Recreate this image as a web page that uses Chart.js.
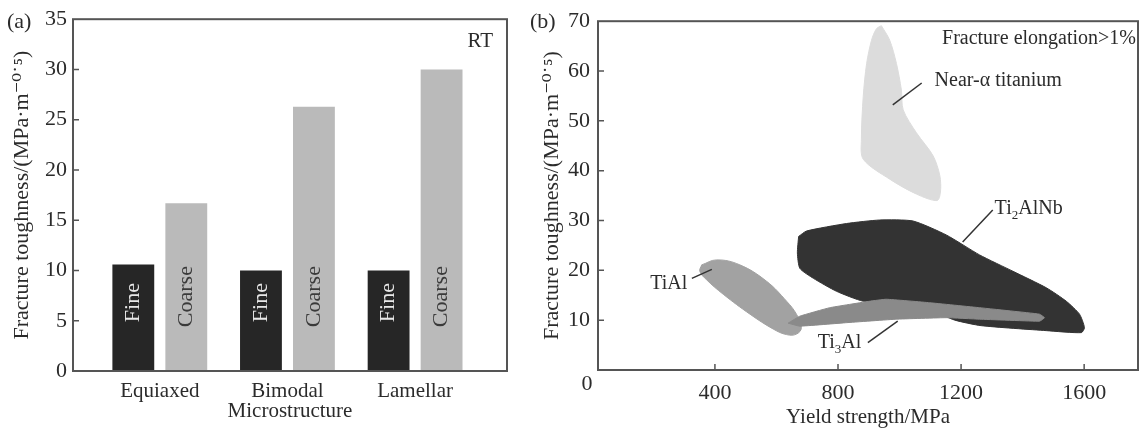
<!DOCTYPE html>
<html>
<head>
<meta charset="utf-8">
<script src="https://cdn.jsdelivr.net/npm/chart.js@4.4.1/dist/chart.umd.min.js"></script>
<style>
    body { margin: 0; background: #fff; }
    #wrap { position: relative; width: 1141px; height: 432px; }
    #left { position: absolute; left: 0; top: 0; }
    #right { position: absolute; left: 530px; top: 0; }
</style>
</head>
<body>
<div id="wrap">
    <canvas id="left" width="530" height="432"></canvas>
    <canvas id="right" width="611" height="432"></canvas>
</div>
<script>
// (a) bars
var categories = ['Equiaxed', 'Bimodal', 'Lamellar'];
var fineValues = [10.6, 10.0, 10.0];
var coarseValues = [16.7, 26.3, 30.0];

// (b) regions, [yield strength MPa, fracture toughness]
var strengthTicks = [400, 800, 1200, 1600];
var nearAlpha = [[941, 69.1], [968, 66.2], [990, 61.5], [1006, 56.2], [1012, 52.2], [1055, 47.6], [1109, 43.0], [1131, 39.0],
    [1133, 35.7], [1122, 34.0], [1055, 35.3], [968, 38.3], [882, 42.3], [876, 46.3], [882, 54.9], [893, 61.5], [909, 66.2], [925, 68.5]];
var ti2alnb = [[672, 26.8], [698, 27.9], [828, 29.4], [936, 30.1], [1044, 29.9], [1152, 27.1], [1260, 23.1], [1369, 19.8],
    [1477, 16.5], [1542, 13.8], [1585, 11.2], [1601, 8.5], [1591, 7.5], [1477, 7.9], [1265, 8.9], [1180, 10.0], [1100, 12.0],
    [1000, 13.5], [936, 14.0], [882, 13.8], [795, 15.8], [720, 18.4], [676, 20.4], [668, 23.5]];
var ti3al = [[638, 9.4], [676, 10.8], [773, 12.5], [903, 13.8], [957, 14.2], [1098, 13.5], [1260, 12.5], [1369, 11.8],
    [1455, 11.2], [1471, 10.5], [1455, 9.8], [1260, 10.2], [1152, 10.5], [990, 10.2], [828, 9.5], [676, 8.8]];
var tial = [[357, 21.1], [406, 22.1], [481, 21.1], [568, 17.8], [633, 13.8], [665, 11.2], [681, 8.5], [665, 7.2],
    [633, 7.1], [590, 8.2], [514, 11.2], [427, 15.2], [373, 18.1], [351, 19.8]];

var serif = '"Liberation Serif", "DejaVu Serif", serif';
var ink = '#2b2b2b';
var yTitle = 'Fracture toughness/(MPa\u00b7m\u207b\u2070\u02d9\u2075)';

Chart.defaults.font.family = serif;
Chart.defaults.color = ink;

function toPoints(arr) {
    var pts = arr.map(function (p) { return {x: p[0], y: p[1]}; });
    pts.push({x: arr[0][0], y: arr[0][1]});
    return pts;
}

function frameAndTicks(xTicks) {
    return {
        id: 'frame',
        afterDraw: function (chart) {
            var ctx = chart.ctx;
            var a = chart.chartArea;
            ctx.save();
            ctx.strokeStyle = '#555';
            ctx.lineWidth = 2;
            ctx.strokeRect(a.left, a.top, a.right - a.left, a.bottom - a.top);
            ctx.lineWidth = 1.5;
            ctx.beginPath();
            chart.scales.y.ticks.forEach(function (t) {
                var py = chart.scales.y.getPixelForValue(t.value);
                if (py > a.top + 2 && py < a.bottom - 2) {
                    ctx.moveTo(a.left, py);
                    ctx.lineTo(a.left + 6, py);
                }
            });
            if (xTicks) {
                chart.scales.x.ticks.forEach(function (t) {
                    var px = chart.scales.x.getPixelForValue(t.value);
                    ctx.moveTo(px, a.bottom);
                    ctx.lineTo(px, a.bottom - 6);
                });
            }
            ctx.stroke();
            ctx.restore();
        }
    };
}

var barText = {
    id: 'barText',
    afterDatasetsDraw: function (chart) {
        var ctx = chart.ctx;
        var y = chart.scales.y;
        ctx.save();
        ctx.font = '22px ' + serif;
        ctx.textAlign = 'center';
        ctx.textBaseline = 'middle';
        [0, 1].forEach(function (d) {
            chart.getDatasetMeta(d).data.forEach(function (bar) {
                ctx.save();
                ctx.translate(bar.x, y.getPixelForValue(d === 0 ? 6.8 : 7.4));
                ctx.rotate(-Math.PI / 2);
                ctx.fillStyle = d === 0 ? '#e8e8e8' : '#3a3a3a';
                ctx.fillText(d === 0 ? 'Fine' : 'Coarse', 0, 0);
                ctx.restore();
            });
        });
        ctx.font = '22px ' + serif;
        ctx.fillStyle = ink;
        ctx.textAlign = 'left';
        ctx.fillText('(a)', 7, 22);
        ctx.font = '21px ' + serif;
        ctx.textAlign = 'right';
        ctx.fillText('RT', chart.chartArea.right - 14, chart.chartArea.top + 22);
        ctx.restore();
    }
};

new Chart(document.getElementById('left'), {
    type: 'bar',
    data: {
        datasets: [{
            label: 'Fine',
            data: fineValues.map(function (v, i) { return {x: i + 1, y: v}; }),
            backgroundColor: '#262626'
        }, {
            label: 'Coarse',
            data: coarseValues.map(function (v, i) { return {x: i + 1, y: v}; }),
            backgroundColor: '#bababa'
        }]
    },
    options: {
        responsive: false,
        animation: false,
        events: [],
        categoryPercentage: 0.83,
        barPercentage: 0.79,
        layout: {padding: {left: 0, top: 17, right: 23, bottom: 0}},
        plugins: {legend: {display: false}, tooltip: {enabled: false}},
        scales: {
            x: {
                type: 'linear',
                min: 0.32,
                max: 3.72,
                offset: false,
                grid: {display: false, drawTicks: false},
                border: {display: false},
                afterBuildTicks: function (scale) {
                    scale.ticks = categories.map(function (c, i) { return {value: i + 1}; });
                },
                afterFit: function (scale) { scale.height = 61; },
                ticks: {
                    autoSkip: false,
                    maxRotation: 0,
                    padding: 8,
                    font: {size: 21},
                    callback: function (v) { return categories[v - 1]; }
                },
                title: {display: true, text: 'Microstructure', font: {size: 21}, padding: {top: 0, bottom: 8}}
            },
            y: {
                min: 0,
                max: 35,
                ticks: {stepSize: 5, padding: 6, font: {size: 22}},
                grid: {display: false, drawTicks: false},
                border: {display: false},
                afterFit: function (scale) { scale.width = 73; },
                title: {display: true, text: yTitle, font: {size: 22}, padding: {top: 9, bottom: 0}}
            }
        }
    },
    plugins: [frameAndTicks(false), barText]
});

function drawParts(ctx, parts, x, y, align) {
    var total = 0;
    parts.forEach(function (p) {
        ctx.font = (p[1] ? '13px ' : '20px ') + serif;
        total += ctx.measureText(p[0]).width;
    });
    var cx = align === 'right' ? x - total : x;
    ctx.textAlign = 'left';
    parts.forEach(function (p) {
        ctx.font = (p[1] ? '13px ' : '20px ') + serif;
        ctx.fillText(p[0], cx, p[1] ? y + 7 : y);
        cx += ctx.measureText(p[0]).width;
    });
}

var regionText = {
    id: 'regionText',
    afterDatasetsDraw: function (chart) {
        var ctx = chart.ctx;
        var x = chart.scales.x;
        var y = chart.scales.y;
        var a = chart.chartArea;
        function px(v) { return x.getPixelForValue(v); }
        function py(v) { return y.getPixelForValue(v); }
        ctx.save();
        ctx.fillStyle = ink;
        ctx.strokeStyle = '#333';
        ctx.lineWidth = 1.5;
        ctx.textBaseline = 'middle';
        // leader lines
        [[1072, 57.6, 978, 53.2], [1303, 32.1, 1205, 25.7], [325, 18.4, 390, 20.2], [897, 5.5, 994, 9.8]].forEach(function (l) {
            ctx.beginPath();
            ctx.moveTo(px(l[0]), py(l[1]));
            ctx.lineTo(px(l[2]), py(l[3]));
            ctx.stroke();
        });
        drawParts(ctx, [['Near-\u03b1 titanium', false]], px(1114), py(58.0), 'left');
        drawParts(ctx, [['Ti', false], ['2', true], ['AlNb', false]], px(1309), py(32.3), 'left');
        drawParts(ctx, [['TiAl', false]], px(310), py(17.4), 'right');
        drawParts(ctx, [['Ti', false], ['3', true], ['Al', false]], px(734), py(5.5), 'left');
        drawParts(ctx, [['Fracture elongation>1%', false]], a.right - 2, a.top + 18, 'right');
        ctx.font = '22px ' + serif;
        ctx.textAlign = 'center';
        ctx.fillText('0', a.left - 11, a.bottom + 14);
        ctx.textAlign = 'left';
        ctx.fillText('(b)', 0, 22);
        ctx.restore();
    }
};

function region(arr, color, tension) {
    return {
        data: toPoints(arr),
        showLine: true,
        fill: 'shape',
        backgroundColor: color,
        borderColor: color,
        borderWidth: 1,
        pointRadius: 0,
        tension: tension
    };
}

new Chart(document.getElementById('right'), {
    type: 'scatter',
    data: {
        datasets: [
            region(ti3al, '#8a8a8a', 0.1),
            region(ti2alnb, '#333333', 0.2),
            region(tial, '#a2a2a2', 0.4),
            region(nearAlpha, '#dcdcdc', 0.3)
        ]
    },
    options: {
        responsive: false,
        animation: false,
        events: [],
        layout: {padding: {left: 0, top: 17, right: 3, bottom: 0}},
        plugins: {legend: {display: false}, tooltip: {enabled: false}},
        scales: {
            x: {
                type: 'linear',
                min: 20,
                max: 1775,
                grid: {display: false, drawTicks: false},
                border: {display: false},
                afterBuildTicks: function (scale) {
                    scale.ticks = strengthTicks.map(function (v) { return {value: v}; });
                },
                afterFit: function (scale) { scale.height = 62; },
                ticks: {
                    autoSkip: false,
                    maxRotation: 0,
                    padding: 10,
                    font: {size: 22},
                    callback: function (v) { return String(v); }
                },
                title: {display: true, text: 'Yield strength/MPa', font: {size: 21}, padding: {top: 0, bottom: 2}}
            },
            y: {
                min: 0,
                max: 70,
                ticks: {
                    stepSize: 10,
                    padding: 8,
                    font: {size: 22},
                    callback: function (v) { return v === 0 ? '' : String(v); }
                },
                grid: {display: false, drawTicks: false},
                border: {display: false},
                afterFit: function (scale) { scale.width = 68; },
                title: {display: true, text: yTitle, font: {size: 22}, padding: {top: 9, bottom: 0}}
            }
        }
    },
    plugins: [frameAndTicks(true), regionText]
});
</script>
</body>
</html>
